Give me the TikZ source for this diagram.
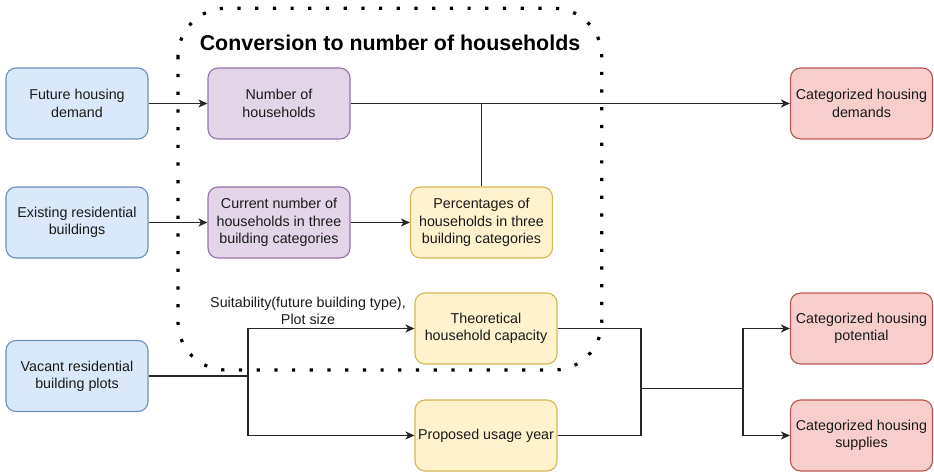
\documentclass[tikz,border=0pt]{standalone}
\usepackage{fontspec}
\setmainfont{Liberation Sans}
\usetikzlibrary{arrows.meta}
\definecolor{bfill}{HTML}{DAE8FC}\definecolor{bdraw}{HTML}{6C8EBF}
\definecolor{pfill}{HTML}{E1D5E7}\definecolor{pdraw}{HTML}{9673A6}
\definecolor{yfill}{HTML}{FFF2CC}\definecolor{ydraw}{HTML}{D6B656}
\definecolor{rfill}{HTML}{F8CECC}\definecolor{rdraw}{HTML}{B85450}
\definecolor{txt}{HTML}{1A1A1A}
\tikzset{
  box/.style={rectangle, rounded corners=10pt, minimum width=142pt, minimum height=71pt,
    line width=1.1pt, align=center, text=txt, inner sep=2pt,
    font=\fontsize{14.3}{17.3}\selectfont},
  bluebox/.style={box, fill=bfill, draw=bdraw},
  purplebox/.style={box, fill=pfill, draw=pdraw},
  yellowbox/.style={box, fill=yfill, draw=ydraw},
  redbox/.style={box, fill=rfill, draw=rdraw},
  conn/.style={line width=1.1pt, draw=black!85},
  arr/.style={conn, -{Stealth[length=9pt,width=8pt,inset=2.5pt]}},
  dotframe/.style={line width=3.2pt, dash pattern=on 3.2pt off 14.5pt, rounded corners=48pt}
}
\begin{document}
\begin{tikzpicture}[x=1pt,y=-1pt]
\useasboundingbox (0,0) rectangle (934,473);
% dotted group frame
\draw[dotframe] (178,8.3) rectangle (601.7,370);
\node[anchor=base, font=\fontsize{21.4}{25}\selectfont\bfseries, text=black] (title) at (390,51) {Conversion to number of households};
% nodes
\node[bluebox] (fhd) at (77,103.5) {Future housing\\demand};
\node[bluebox] (erb) at (77,222.5) {Existing residential\\buildings};
\node[bluebox] (vrb) at (77,376) {Vacant residential\\building plots};
\node[purplebox] (noh) at (279,103.5) {Number of\\households};
\node[purplebox] (cur) at (279,222.5) {Current number of\\households in three\\building categories};
\node[yellowbox] (pct) at (481.5,222.5) {Percentages of\\households in three\\building categories};
\node[yellowbox] (thc) at (486,328.5) {Theoretical\\household capacity};
\node[yellowbox] (puy) at (486,435.5) {Proposed usage year};
\node[redbox] (chd) at (861.5,103.5) {Categorized housing\\demands};
\node[redbox] (chp) at (861.5,328.5) {Categorized housing\\potential};
\node[redbox] (chs) at (861.5,435.5) {Categorized housing\\supplies};
% label
\node[align=center, text=txt, font=\fontsize{14.3}{17.3}\selectfont] (lbl) at (308,311) {Suitability(future building type),\\Plot size};
% junction coordinates
\coordinate (j1) at (248,376);
\coordinate (j2) at (641,388.3);
\coordinate (j3) at (743,388.3);
% connectors
\draw[arr] (fhd.east) -- (noh.west);
\draw[arr] (noh.east) -- (chd.west);
\draw[conn] (pct.north) -- (pct.north |- noh.east);
\draw[arr] (erb.east) -- (cur.west);
\draw[arr] (cur.east) -- (pct.west);
\draw[conn] (vrb.east) -- (j1);
\draw[arr] (j1) |- (thc.west);
\draw[arr] (j1) |- (puy.west);
\draw[conn] (thc.east) -| (j2) |- (puy.east);
\draw[conn] (j2) -- (j3);
\draw[arr] (j3) |- (chp.west);
\draw[arr] (j3) |- (chs.west);
\end{tikzpicture}
\end{document}
